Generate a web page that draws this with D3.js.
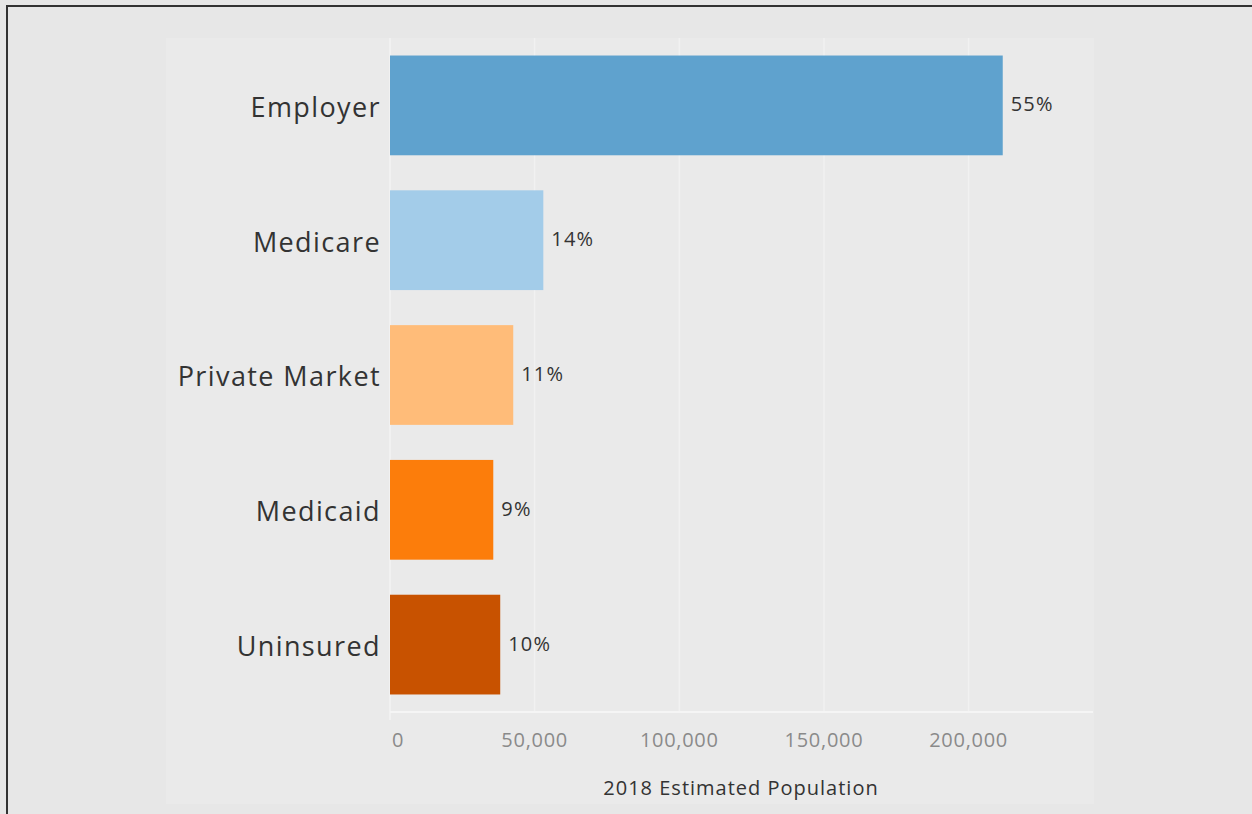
<!DOCTYPE html>
<html>
<head>
<meta charset="utf-8">
<script src="https://cdn.jsdelivr.net/npm/d3@7"></script>
<style>
  body { margin: 0; background: #e7e7e7; }
  svg { display: block; font-family: "Open Sans", sans-serif; }
</style>
</head>
<body>
<div id="chart"></div>
<script>
const categories = ['Employer', 'Medicare', 'Private Market', 'Medicaid', 'Uninsured'];
const population = [211800, 53000, 42600, 35700, 38100];
const shareLabels = ['55%', '14%', '11%', '9%', '10%'];
const barColors = ['#5fa2ce', '#a3cce9', '#ffbc79', '#fc7d0b', '#c85200'];
const xTicks = [0, 50000, 100000, 150000, 200000];
const xTitle = '2018 Estimated Population';

const width = 1252, height = 814;
const margin = { left: 390, top: 38, right: 1093, bottom: 712 };

const svg = d3.select('#chart').append('svg')
    .attr('width', width)
    .attr('height', height);

// outer frame
svg.append('rect').attr('x', 0).attr('y', 0).attr('width', width).attr('height', height).attr('fill', '#e7e7e7');
svg.append('rect').attr('x', 7).attr('y', 6).attr('width', width).attr('height', height)
    .attr('fill', 'none').attr('stroke', '#333').attr('stroke-width', 2);

// panel
svg.append('rect').attr('x', 166).attr('y', 38).attr('width', 928).attr('height', 766).attr('fill', '#eaeaea');

const x = d3.scaleLinear().domain([0, 243000]).range([margin.left, margin.right]);
const y = d3.scaleBand().domain(categories).range([margin.top, margin.bottom]).paddingInner(0.26).paddingOuter(0.13);

// grid
svg.append('g').selectAll('line').data(xTicks).enter().append('line')
    .attr('x1', d => x(d)).attr('x2', d => x(d))
    .attr('y1', margin.top).attr('y2', d => d === 0 ? margin.bottom + 8 : margin.bottom)
    .attr('stroke', d => d === 0 ? '#f3f3f3' : '#f1f1f1').attr('stroke-width', 1.5);

svg.append('line')
    .attr('x1', margin.left).attr('x2', margin.right)
    .attr('y1', margin.bottom).attr('y2', margin.bottom)
    .attr('stroke', '#f5f5f5').attr('stroke-width', 2);

// bars
const rows = categories.map((c, i) => ({ name: c, value: population[i], label: shareLabels[i], color: barColors[i] }));

svg.append('g').selectAll('rect').data(rows).enter().append('rect')
    .attr('x', x(0))
    .attr('y', d => y(d.name))
    .attr('width', d => x(d.value) - x(0))
    .attr('height', y.bandwidth())
    .attr('fill', d => d.color);

svg.append('g').selectAll('text').data(rows).enter().append('text')
    .attr('x', d => x(d.value) + 8)
    .attr('y', d => y(d.name) + y.bandwidth() / 2)
    .attr('dy', '0.3em')
    .attr('font-size', 20)
    .attr('letter-spacing', 1.2)
    .attr('fill', '#333')
    .text(d => d.label);

// category labels
svg.append('g').selectAll('text').data(rows).enter().append('text')
    .attr('x', 381)
    .attr('y', d => y(d.name) + y.bandwidth() / 2)
    .attr('dy', '0.42em')
    .attr('text-anchor', 'end')
    .attr('font-size', 27)
    .attr('letter-spacing', 1.4)
    .attr('fill', '#333')
    .text(d => d.name);

// x axis ticks
svg.append('g').selectAll('text').data(xTicks).enter().append('text')
    .attr('x', d => d === 0 ? x(d) + 2 : x(d))
    .attr('y', 747)
    .attr('text-anchor', d => d === 0 ? 'start' : 'middle')
    .attr('font-size', 20)
    .attr('letter-spacing', 0.7)
    .attr('fill', '#8a8a8a')
    .text(d => d3.format(',')(d));

svg.append('text')
    .attr('x', 741).attr('y', 795)
    .attr('text-anchor', 'middle')
    .attr('font-size', 20)
    .attr('letter-spacing', 1)
    .attr('fill', '#333')
    .text(xTitle);
</script>
</body>
</html>
